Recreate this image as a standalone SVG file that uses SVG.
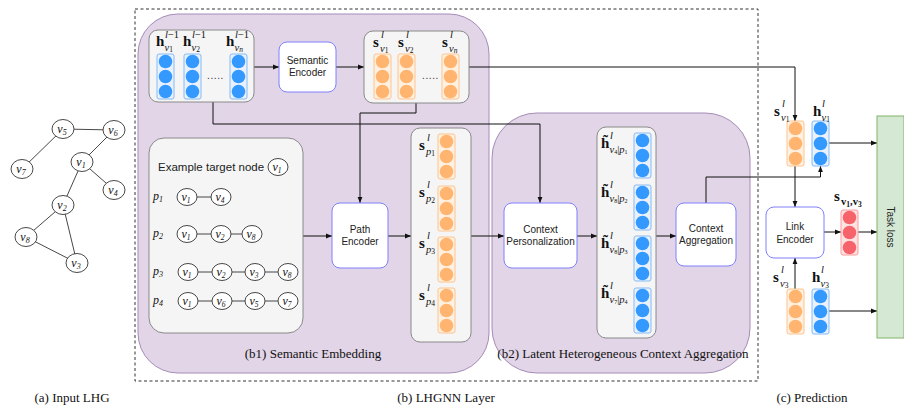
<svg xmlns="http://www.w3.org/2000/svg" xmlns:xlink="http://www.w3.org/1999/xlink" width="904" height="408" viewBox="0 0 904 408">
<defs>
<style>
.region{fill:#e1d5e7;stroke:#a68bb8;stroke-width:1}
.grey{fill:#f5f5f5;stroke:#8a8a8a;stroke-width:1}
.enc{fill:#fff;stroke:#8080ff;stroke-width:1}
.conn{fill:none;stroke:#111;stroke-width:1}
.bt{font-family:"Liberation Sans",Arial,sans-serif;font-size:10px;fill:#222;text-anchor:middle}
.cap{font-family:"Liberation Serif","Times New Roman",serif;font-size:13px;fill:#111;text-anchor:middle}
.mb{font-family:"Liberation Serif","Times New Roman",serif;font-weight:bold;font-size:15px;fill:#111}
.ms{font-family:"Liberation Serif","Times New Roman",serif;font-size:10.5px;fill:#111}
.i{font-style:italic}
.ss{font-size:7.5px}
.nd{fill:#fff;stroke:#333;stroke-width:0.9}
.nl{font-family:"Liberation Serif","Times New Roman",serif;font-style:italic;font-size:12px;fill:#111;text-anchor:middle}
.edge{stroke:#333;stroke-width:0.9}
.dots{font-family:"Liberation Sans",Arial,sans-serif;font-size:10px;fill:#333}
.bcr{fill:#e8f1fd;stroke:#86bbf5;stroke-width:1}
.bcc{fill:#3399ff}
.ocr{fill:#fff0e0;stroke:#ffc48c;stroke-width:1}
.occ{fill:#ffb570}
.rcr{fill:#ffe3e3;stroke:#ff9a9a;stroke-width:1}
.rcc{fill:#f7636b}
</style>
<marker id="ar" viewBox="0 0 8 8" refX="8" refY="4" markerWidth="6" markerHeight="6" orient="auto" markerUnits="userSpaceOnUse">
<path d="M0,0.8 L8,4 L0,7.2 Z" fill="#111"/>
</marker>
<g id="bcol"><rect width="17" height="45" rx="2" class="bcr"/><circle cx="8.5" cy="7.5" r="6.8" class="bcc"/><circle cx="8.5" cy="22.5" r="6.8" class="bcc"/><circle cx="8.5" cy="37.5" r="6.8" class="bcc"/></g>
<g id="ocol"><rect width="17" height="45" rx="2" class="ocr"/><circle cx="8.5" cy="7.5" r="6.8" class="occ"/><circle cx="8.5" cy="22.5" r="6.8" class="occ"/><circle cx="8.5" cy="37.5" r="6.8" class="occ"/></g>
<g id="rcol"><rect width="17" height="45" rx="2" class="rcr"/><circle cx="8.5" cy="7.5" r="6.8" class="rcc"/><circle cx="8.5" cy="22.5" r="6.8" class="rcc"/><circle cx="8.5" cy="37.5" r="6.8" class="rcc"/></g>
</defs>

<!-- regions -->
<g id="layer-frame">
<rect x="135" y="9" width="623" height="372" fill="none" stroke="#333" stroke-width="1" stroke-dasharray="3,2.5"/>
</g>
<g id="b1-region">
<rect x="138" y="14" width="351" height="359" rx="40" class="region"/>
<text x="313" y="358" class="cap">(b1) Semantic Embedding</text>
</g>
<g id="b2-region">
<rect x="492" y="113" width="258" height="260" rx="45" class="region"/>
<text x="623" y="358" class="cap">(b2) Latent Heterogeneous Context Aggregation</text>
</g>

<!-- input graph -->
<g id="input-graph">
<g class="edge">
<line x1="63" y1="129" x2="114" y2="130"/>
<line x1="63" y1="129" x2="22" y2="169"/>
<line x1="114" y1="130" x2="82" y2="162"/>
<line x1="82" y1="162" x2="114" y2="190"/>
<line x1="82" y1="162" x2="63" y2="205"/>
<line x1="63" y1="205" x2="26" y2="237"/>
<line x1="63" y1="205" x2="77" y2="263"/>
<line x1="26" y1="237" x2="77" y2="263"/>
</g>
<g id="g-v5"><ellipse cx="63" cy="129" rx="11" ry="9.5" class="nd"/><text x="62" y="133" class="nl">v<tspan font-size="8" dy="2">5</tspan></text></g>
<g id="g-v6"><ellipse cx="114" cy="130" rx="11" ry="9.5" class="nd"/><text x="113" y="134" class="nl">v<tspan font-size="8" dy="2">6</tspan></text></g>
<g id="g-v1"><ellipse cx="82" cy="162" rx="11" ry="9.5" class="nd"/><text x="81" y="166" class="nl">v<tspan font-size="8" dy="2">1</tspan></text></g>
<g id="g-v7"><ellipse cx="22" cy="169" rx="11" ry="9.5" class="nd"/><text x="21" y="173" class="nl">v<tspan font-size="8" dy="2">7</tspan></text></g>
<g id="g-v4"><ellipse cx="114" cy="190" rx="11" ry="9.5" class="nd"/><text x="113" y="194" class="nl">v<tspan font-size="8" dy="2">4</tspan></text></g>
<g id="g-v2"><ellipse cx="63" cy="205" rx="11" ry="9.5" class="nd"/><text x="62" y="209" class="nl">v<tspan font-size="8" dy="2">2</tspan></text></g>
<g id="g-v8"><ellipse cx="26" cy="237" rx="11" ry="9.5" class="nd"/><text x="25" y="241" class="nl">v<tspan font-size="8" dy="2">8</tspan></text></g>
<g id="g-v3"><ellipse cx="77" cy="263" rx="11" ry="9.5" class="nd"/><text x="76" y="267" class="nl">v<tspan font-size="8" dy="2">3</tspan></text></g>
</g>

<!-- connectors -->
<g id="connectors" class="conn">
<path d="M254,67 H279" marker-end="url(#ar)"/>
<path d="M336,67 H364" marker-end="url(#ar)"/>
<path d="M469,67 H795 V121" marker-end="url(#ar)"/>
<path d="M213,102 V124 H540 V203" marker-end="url(#ar)"/>
<path d="M416,103 V113 H360 V203" marker-end="url(#ar)"/>
<path d="M303,236 H332" marker-end="url(#ar)"/>
<path d="M388,236 H411" marker-end="url(#ar)"/>
<path d="M471,236 H504" marker-end="url(#ar)"/>
<path d="M577,236 H597" marker-end="url(#ar)"/>
<path d="M656,236 H676" marker-end="url(#ar)"/>
<path d="M706,203 V177 H820.5 V166" marker-end="url(#ar)"/>
<path d="M829,143 H877" marker-end="url(#ar)"/>
<path d="M795,166 V207" marker-end="url(#ar)"/>
<path d="M795,289 V258" marker-end="url(#ar)"/>
<path d="M824,232 H841" marker-end="url(#ar)"/>
<path d="M858,232 H877" marker-end="url(#ar)"/>
<path d="M829,311 H877" marker-end="url(#ar)"/>
</g>

<!-- h^{l-1} box -->
<g id="h-prev-box">
<rect x="149" y="30" width="105" height="72" rx="9" class="grey"/>
<use xlink:href="#bcol" x="157" y="54"/>
<use xlink:href="#bcol" x="184" y="54"/>
<use xlink:href="#bcol" x="230" y="54"/>
<text x="207" y="79" class="dots" letter-spacing="0.6">.....</text>
<text x="156" y="46" class="mb">h</text><text x="165" y="38" class="ms"><tspan class="i">l</tspan>−1</text><text x="164.5" y="50.5" class="ms"><tspan class="i">v</tspan><tspan class="ss" dy="1.5">1</tspan></text>
<text x="183" y="46" class="mb">h</text><text x="192" y="38" class="ms"><tspan class="i">l</tspan>−1</text><text x="191.5" y="50.5" class="ms"><tspan class="i">v</tspan><tspan class="ss" dy="1.5">2</tspan></text>
<text x="226" y="46" class="mb">h</text><text x="235" y="38" class="ms"><tspan class="i">l</tspan>−1</text><text x="234.5" y="50.5" class="ms"><tspan class="i">v</tspan><tspan class="ss i" dy="1.5">n</tspan></text>
</g>

<g id="semantic-encoder">
<rect x="279" y="42" width="57" height="50" rx="8" class="enc"/>
<text x="307.5" y="64" class="bt">Semantic</text>
<text x="307.5" y="76" class="bt">Encoder</text>
</g>

<g id="s-box">
<rect x="364" y="31" width="105" height="72" rx="9" class="grey"/>
<use xlink:href="#ocol" x="374" y="54"/>
<use xlink:href="#ocol" x="398" y="54"/>
<use xlink:href="#ocol" x="442" y="54"/>
<text x="422" y="79" class="dots" letter-spacing="0.6">.....</text>
<text x="373" y="47" class="mb">s</text><text x="381" y="38" class="ms i">l</text><text x="380" y="51.5" class="ms"><tspan class="i">v</tspan><tspan class="ss" dy="1.5">1</tspan></text>
<text x="398" y="47" class="mb">s</text><text x="406" y="38" class="ms i">l</text><text x="405" y="51.5" class="ms"><tspan class="i">v</tspan><tspan class="ss" dy="1.5">2</tspan></text>
<text x="442" y="47" class="mb">s</text><text x="450" y="38" class="ms i">l</text><text x="449" y="51.5" class="ms"><tspan class="i">v</tspan><tspan class="ss i" dy="1.5">n</tspan></text>
</g>

<g id="example-box">
<rect x="149" y="138" width="154" height="195" rx="15" class="grey"/>
<text x="158" y="171" font-family="Liberation Sans, Arial, sans-serif" font-size="11.5" fill="#222">Example target node</text>
<ellipse cx="278" cy="167" rx="10" ry="8.5" class="nd"/><text x="277" y="171" class="nl" font-size="11">v<tspan font-size="7.5" dy="2">1</tspan></text>
<g class="edge">
<line x1="197" y1="197" x2="211" y2="197"/>
<line x1="197" y1="234" x2="211" y2="234"/><line x1="231" y1="234" x2="242" y2="234"/>
<line x1="198" y1="272" x2="212" y2="272"/><line x1="232" y1="272" x2="245" y2="272"/><line x1="265" y1="272" x2="278" y2="272"/>
<line x1="198" y1="301" x2="212" y2="301"/><line x1="232" y1="301" x2="245" y2="301"/><line x1="265" y1="301" x2="278" y2="301"/>
</g>
<text x="158" y="200" class="nl" text-anchor="start">p<tspan font-size="8" dy="2">1</tspan></text>
<text x="158" y="237" class="nl" text-anchor="start">p<tspan font-size="8" dy="2">2</tspan></text>
<text x="158" y="275" class="nl" text-anchor="start">p<tspan font-size="8" dy="2">3</tspan></text>
<text x="158" y="304" class="nl" text-anchor="start">p<tspan font-size="8" dy="2">4</tspan></text>
<g>
<ellipse cx="187" cy="197" rx="10" ry="8.5" class="nd"/><text x="186" y="201" class="nl" font-size="11">v<tspan font-size="7.5" dy="2">1</tspan></text>
<ellipse cx="221" cy="197" rx="10" ry="8.5" class="nd"/><text x="220" y="201" class="nl" font-size="11">v<tspan font-size="7.5" dy="2">4</tspan></text>
<ellipse cx="187" cy="234" rx="10" ry="8.5" class="nd"/><text x="186" y="238" class="nl" font-size="11">v<tspan font-size="7.5" dy="2">1</tspan></text>
<ellipse cx="221" cy="234" rx="10" ry="8.5" class="nd"/><text x="220" y="238" class="nl" font-size="11">v<tspan font-size="7.5" dy="2">2</tspan></text>
<ellipse cx="252" cy="234" rx="10" ry="8.5" class="nd"/><text x="251" y="238" class="nl" font-size="11">v<tspan font-size="7.5" dy="2">8</tspan></text>
<ellipse cx="188" cy="272" rx="10" ry="8.5" class="nd"/><text x="187" y="276" class="nl" font-size="11">v<tspan font-size="7.5" dy="2">1</tspan></text>
<ellipse cx="222" cy="272" rx="10" ry="8.5" class="nd"/><text x="221" y="276" class="nl" font-size="11">v<tspan font-size="7.5" dy="2">2</tspan></text>
<ellipse cx="255" cy="272" rx="10" ry="8.5" class="nd"/><text x="254" y="276" class="nl" font-size="11">v<tspan font-size="7.5" dy="2">3</tspan></text>
<ellipse cx="288" cy="272" rx="10" ry="8.5" class="nd"/><text x="287" y="276" class="nl" font-size="11">v<tspan font-size="7.5" dy="2">8</tspan></text>
<ellipse cx="188" cy="301" rx="10" ry="8.5" class="nd"/><text x="187" y="305" class="nl" font-size="11">v<tspan font-size="7.5" dy="2">1</tspan></text>
<ellipse cx="222" cy="301" rx="10" ry="8.5" class="nd"/><text x="221" y="305" class="nl" font-size="11">v<tspan font-size="7.5" dy="2">6</tspan></text>
<ellipse cx="255" cy="301" rx="10" ry="8.5" class="nd"/><text x="254" y="305" class="nl" font-size="11">v<tspan font-size="7.5" dy="2">5</tspan></text>
<ellipse cx="288" cy="301" rx="10" ry="8.5" class="nd"/><text x="287" y="305" class="nl" font-size="11">v<tspan font-size="7.5" dy="2">7</tspan></text>
</g>
</g>

<g id="path-encoder">
<rect x="332" y="203" width="56" height="65" rx="8" class="enc"/>
<text x="360" y="233" class="bt">Path</text>
<text x="360" y="245" class="bt">Encoder</text>
</g>

<g id="sp-box">
<rect x="411" y="128" width="60" height="214" rx="9" class="grey"/>
<use xlink:href="#ocol" x="438" y="134"/>
<use xlink:href="#ocol" x="438" y="186"/>
<use xlink:href="#ocol" x="438" y="237"/>
<use xlink:href="#ocol" x="438" y="288"/>
<text x="419" y="150" class="mb">s</text><text x="427" y="141" class="ms i">l</text><text x="426" y="154.5" class="ms"><tspan class="i">p</tspan><tspan class="ss" dy="1.5">1</tspan></text>
<text x="419" y="197" class="mb">s</text><text x="427" y="188" class="ms i">l</text><text x="426" y="201.5" class="ms"><tspan class="i">p</tspan><tspan class="ss" dy="1.5">2</tspan></text>
<text x="419" y="248" class="mb">s</text><text x="427" y="239" class="ms i">l</text><text x="426" y="252.5" class="ms"><tspan class="i">p</tspan><tspan class="ss" dy="1.5">3</tspan></text>
<text x="419" y="300" class="mb">s</text><text x="427" y="291" class="ms i">l</text><text x="426" y="304.5" class="ms"><tspan class="i">p</tspan><tspan class="ss" dy="1.5">4</tspan></text>
</g>

<g id="context-personalization">
<rect x="504" y="203" width="73" height="65" rx="8" class="enc"/>
<text x="540.5" y="233" class="bt">Context</text>
<text x="540.5" y="245" class="bt">Personalization</text>
</g>

<g id="htilde-box">
<rect x="597" y="127" width="59" height="211" rx="9" class="grey"/>
<use xlink:href="#bcol" x="634" y="133"/>
<use xlink:href="#bcol" x="634" y="185"/>
<use xlink:href="#bcol" x="634" y="236"/>
<use xlink:href="#bcol" x="634" y="288"/>
<text x="601" y="148" class="mb">h&#x303;</text><text x="610" y="139" class="ms i">l</text><text x="609.5" y="152.5" class="ms" font-size="8.5"><tspan class="i">v</tspan><tspan font-size="6" dy="1">4</tspan><tspan dy="-1">|</tspan><tspan class="i">p</tspan><tspan font-size="6" dy="1">1</tspan></text>
<text x="601" y="197" class="mb">h&#x303;</text><text x="610" y="188" class="ms i">l</text><text x="609.5" y="201.5" class="ms" font-size="8.5"><tspan class="i">v</tspan><tspan font-size="6" dy="1">8</tspan><tspan dy="-1">|</tspan><tspan class="i">p</tspan><tspan font-size="6" dy="1">2</tspan></text>
<text x="601" y="248" class="mb">h&#x303;</text><text x="610" y="239" class="ms i">l</text><text x="609.5" y="252.5" class="ms" font-size="8.5"><tspan class="i">v</tspan><tspan font-size="6" dy="1">8</tspan><tspan dy="-1">|</tspan><tspan class="i">p</tspan><tspan font-size="6" dy="1">3</tspan></text>
<text x="601" y="298" class="mb">h&#x303;</text><text x="610" y="289" class="ms i">l</text><text x="609.5" y="302.5" class="ms" font-size="8.5"><tspan class="i">v</tspan><tspan font-size="6" dy="1">7</tspan><tspan dy="-1">|</tspan><tspan class="i">p</tspan><tspan font-size="6" dy="1">4</tspan></text>
</g>

<g id="context-aggregation">
<rect x="676" y="203" width="60" height="63" rx="8" class="enc"/>
<text x="706" y="232" class="bt">Context</text>
<text x="706" y="244" class="bt">Aggregation</text>
</g>

<!-- prediction -->
<g id="s-v1">
<use xlink:href="#ocol" x="787" y="121"/>
<text x="774" y="116" class="mb">s</text><text x="782" y="107" class="ms i">l</text><text x="781" y="120.5" class="ms"><tspan class="i">v</tspan><tspan class="ss" dy="1.5">1</tspan></text>
</g>
<g id="h-v1">
<use xlink:href="#bcol" x="812" y="121"/>
<text x="813" y="116" class="mb">h</text><text x="822" y="107" class="ms i">l</text><text x="821.5" y="120.5" class="ms"><tspan class="i">v</tspan><tspan class="ss" dy="1.5">1</tspan></text>
</g>
<g id="link-encoder">
<rect x="766" y="207" width="58" height="51" rx="8" class="enc"/>
<text x="795" y="230" class="bt">Link</text>
<text x="795" y="243" class="bt">Encoder</text>
</g>
<g id="s-v1v3">
<use xlink:href="#rcol" x="841" y="210"/>
<text x="834" y="201" class="mb">s</text><text x="841" y="205" class="ms" font-weight="bold">v<tspan class="ss" dy="1.5">1</tspan><tspan dy="-1.5">,v</tspan><tspan class="ss" dy="1.5">3</tspan></text>
</g>
<g id="s-v3">
<use xlink:href="#ocol" x="787" y="289"/>
<text x="773" y="282" class="mb">s</text><text x="781" y="273" class="ms i">l</text><text x="780" y="286.5" class="ms"><tspan class="i">v</tspan><tspan class="ss" dy="1.5">3</tspan></text>
</g>
<g id="h-v3">
<use xlink:href="#bcol" x="812" y="289"/>
<text x="812" y="282" class="mb">h</text><text x="821" y="273" class="ms i">l</text><text x="820.5" y="286.5" class="ms"><tspan class="i">v</tspan><tspan class="ss" dy="1.5">3</tspan></text>
</g>
<g id="task-loss">
<rect x="877" y="116" width="27" height="222" fill="#d5e8d4" stroke="#82b366" stroke-width="1"/>
<text x="890.5" y="227" class="bt" transform="rotate(90 890.5 227)" dy="3.5">Task loss</text>
</g>

<!-- captions -->
<g id="captions">
<text x="72" y="402" class="cap">(a) Input LHG</text>
<text x="446" y="402" class="cap">(b) LHGNN Layer</text>
<text x="812" y="402" class="cap">(c) Prediction</text>
</g>
</svg>
